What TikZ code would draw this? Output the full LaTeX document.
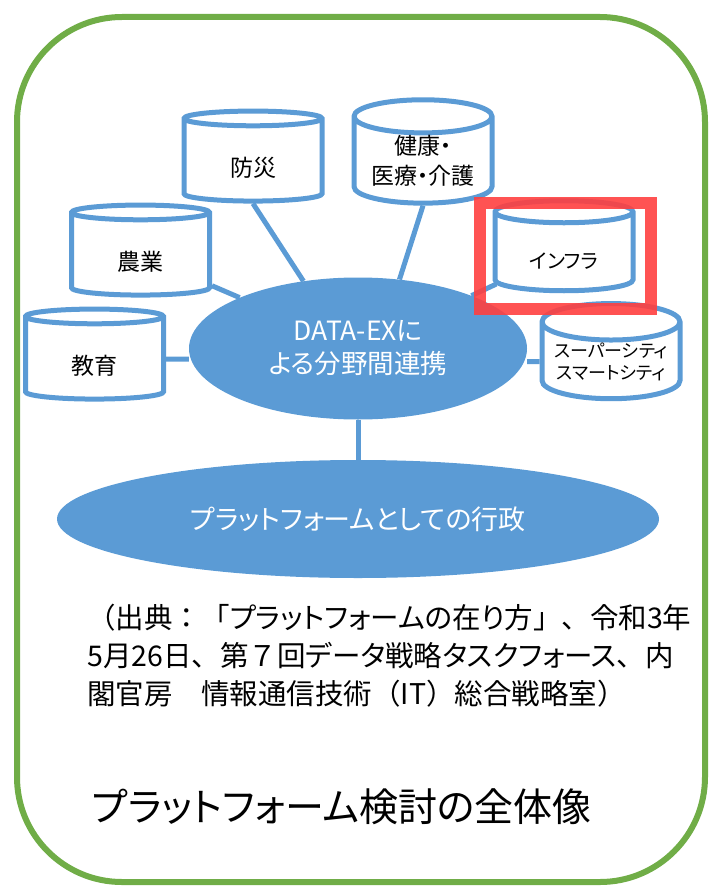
\documentclass[tikz,border=0pt]{standalone}
\usepackage{fontspec}
\usetikzlibrary{shapes.geometric}
\newfontfamily\jp{Noto Sans CJK JP}
\newfontfamily\jpp[RawFeature=+palt]{Noto Sans CJK JP}
\definecolor{dexblue}{RGB}{91,155,213}
\definecolor{framegreen}{RGB}{112,173,71}
\definecolor{markred}{RGB}{255,64,64}

\tikzset{
  db/.style={cylinder, shape border rotate=90, aspect=0.32, draw=dexblue,
    line width=5, fill=white, minimum width=138, minimum height=90,
    align=center, inner sep=0, font=\jpp\fontsize{23}{30}\selectfont,
    execute at begin node={\rule{0pt}{32pt}}},
  hubell/.style={ellipse, fill=dexblue, text=white, align=center, inner sep=0},
  link/.style={draw=dexblue, line width=5},
}

\begin{document}
\begin{tikzpicture}[x=1pt,y=-1pt]
\useasboundingbox (0,0) rectangle (710,888);

            % frame
            \draw[framegreen, line width=6, rounded corners=105] (17,17) rectangle (705,882);

            % ellipses
            \node[hubell, minimum width=338, minimum height=142,
                  font=\jpp\fontsize{26.5}{33}\selectfont,
                  execute at begin node={\rule{0pt}{31pt}}] (hub) at (358,348.5)
                  {DATA-EXに\\よる分野間連携};
            \node[hubell, minimum width=602, minimum height=118,
                  font=\jpp\fontsize{27}{30}\selectfont] (gov) at (358,519)
                  {プラットフォームとしての行政};

            % databases
            \node[db] (bousai) at (253,161) {防災};
            \node[db] (kenko) at (423,161) {健康・\\医療・介護};
            \node[db] (nogyo) at (140.5,255) {農業};
            \node[db, font=\jpp\fontsize{20}{26}\selectfont] (infra) at (564,252.5) {インフラ};
            \node[db] (kyoiku) at (94.5,359) {教育};
            \node[db, font=\jpp\fontsize{18}{22}\selectfont,
                  execute at begin node={\rule{0pt}{24pt}}] (city) at (611,361.5)
                  {スーパーシティ\\スマートシティ};

            % links
            \draw[link] (bousai.south) -- (hub.129);
            \draw[link] (kenko.south) -- (hub.59);
            \foreach \db in {nogyo,infra}
                \draw[link] (\db) -- (hub);
            \draw[link] (kyoiku) -- (kyoiku -| hub.west);
            \draw[link] (city) -- (city -| hub.east);
            \draw[link] (hub) -- (gov);

            % highlight
            \draw[markred, line width=12, opacity=0.9] (479.5,202.5) rectangle (650.5,309);

            % texts
            \node[anchor=north west, align=left, inner sep=0,
                  font=\jpp\fontsize{28.5}{38}\selectfont] (source) at (87,604)
                  {{\jp （}出典{\jp ：「}プラットフォームの在り方{\jp 」、}令和3年\\
                   5月26日{\jp 、}第{\jp ７}回データ戦略タスクフォース{\jp 、}内\\
                   閣官房{\jp 　}情報通信技術{\jp （}IT{\jp ）}総合戦略室{\jp ）}};
            \node[anchor=west, inner sep=0,
                  font=\jpp\fontsize{39}{44}\selectfont] (title) at (92,807)
                  {プラットフォーム検討の全体像};
\end{tikzpicture}
\end{document}
